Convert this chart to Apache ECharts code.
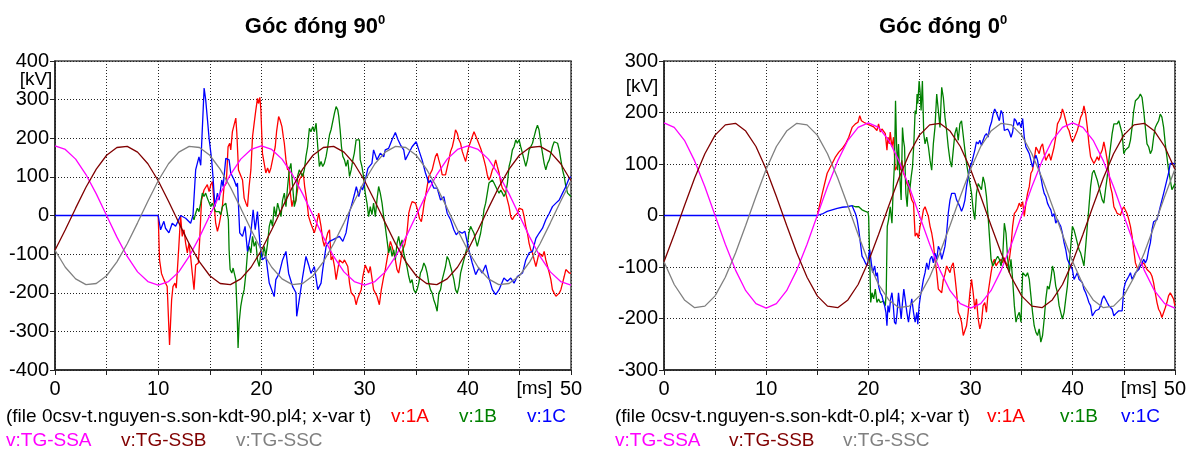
<!DOCTYPE html>
<html>
<head>
<meta charset="utf-8">
<script src="https://cdn.jsdelivr.net/npm/echarts@6/dist/echarts.min.js"></script>
<style>
  html, body { margin: 0; padding: 0; background: #fff; }
  #chart { width: 1189px; height: 452px; }
</style>
</head>
<body>
<div id="chart"></div>
<script>
// reference voltages, one value per ms (0..50 ms), same in both plots
const tgSSA = [180,171,146,106,56,0,-56,-106,-146,-171,-180,-171,-146,-106,-56,0,56,106,146,171,180,171,146,106,56,0,-56,-106,-146,-171,-180,-171,-146,-106,-56,0,56,106,146,171,180,171,146,106,56,0,-56,-106,-146,-171,-180]
const tgSSB = [-90,-37,19,73,120,156,176,179,164,134,90,37,-19,-73,-120,-156,-176,-179,-164,-134,-90,-37,19,73,120,156,176,179,164,134,90,37,-19,-73,-120,-156,-176,-179,-164,-134,-90,-37,19,73,120,156,176,179,164,134,90]
const tgSSC = [-90,-134,-164,-179,-176,-156,-120,-73,-19,37,90,134,164,179,176,156,120,73,19,-37,-90,-134,-164,-179,-176,-156,-120,-73,-19,37,90,134,164,179,176,156,120,73,19,-37,-90,-134,-164,-179,-176,-156,-120,-73,-19,37,90]

// góc đóng 90 : [t ms, kV]  (1A and 1B sit under 1C at 0 before they start)
const v1A_90 = [[10,0],[10.13,-115],[10.32,-150],[10.55,-166],[10.71,-161],[10.87,-184],[11.1,-335],[11.3,-218],[11.43,-184],[11.62,-175],[11.75,-188],[12,-80],[12.17,0],[12.33,-54],[12.5,-37],[12.66,-72],[12.82,-97],[12.98,-72],[13.14,-106],[13.3,-149],[13.47,-192],[13.63,-128],[13.89,-123],[14.02,-63],[14.2,40],[14.44,66],[14.6,71],[14.76,80],[14.93,62],[15.09,79],[15.25,88],[15.41,32],[15.57,-20],[15.74,-41],[15.9,-24],[16.06,-28],[16.22,23],[16.38,75],[16.6,84],[16.77,178],[16.93,187],[17.03,170],[17.19,217],[17.36,217],[17.52,252],[17.62,213],[17.78,118],[17.9,114],[18.17,92],[18.33,45],[18.5,32],[18.65,23],[18.81,75],[18.98,118],[19.14,204],[19.3,239],[19.46,273],[19.62,303],[19.72,290],[19.85,306],[19.95,273],[20.1,161],[20.27,135],[20.43,110],[20.6,123],[20.76,110],[20.92,123],[21.08,144],[21.34,178],[21.47,217],[21.67,256],[21.8,248],[21.99,230],[22.12,204],[22.22,187],[22.38,144],[22.54,118],[22.64,126],[22.77,66],[22.96,23],[23.09,40],[23.29,32],[23.5,66],[23.67,92],[23.84,97],[24.06,110],[24.19,75],[24.39,40],[24.58,-3],[24.78,-20],[24.97,-16],[25.13,-45],[25.3,-28],[25.55,6],[25.78,-28],[25.94,-63],[26.1,-80],[26.27,-76],[26.43,-45],[26.6,-37],[26.75,-115],[26.9,-106],[27.08,-132],[27.24,-166],[27.4,-140],[27.56,-115],[27.73,-113],[27.89,-123],[28.05,-115],[28.2,-123],[28.37,-132],[28.54,-175],[28.7,-200],[28.86,-200],[29,-209],[29.18,-231],[29.34,-214],[29.5,-218],[29.67,-192],[29.83,-158],[30.06,-128],[30.23,-132],[30.39,-149],[30.55,-132],[30.87,-192],[31.2,-209],[31.43,-231],[31.62,-192],[31.85,-158],[32,-141],[32.33,-89],[32.5,-67],[32.66,-80],[32.82,-97],[32.98,-115],[33.14,-140],[33.3,-149],[33.47,-123],[33.63,-93],[33.89,-76],[34.1,-46],[34.28,6],[34.44,23],[34.6,36],[34.76,39],[34.93,32],[35.18,10],[35.31,-7],[35.5,-16],[35.64,6],[35.77,32],[35.9,49],[36.06,75],[36.22,101],[36.38,105],[36.55,118],[36.7,135],[36.87,153],[37.03,161],[37.19,144],[37.36,127],[37.52,105],[37.68,101],[37.84,105],[38,101],[38.17,144],[38.33,166],[38.5,178],[38.65,196],[38.81,222],[38.98,213],[39.14,196],[39.3,187],[39.46,166],[39.62,153],[39.79,140],[39.95,161],[40.1,178],[40.27,191],[40.43,204],[40.6,217],[40.76,213],[40.92,196],[41.08,191],[41.24,174],[41.4,161],[41.57,144],[41.73,127],[41.89,105],[42.05,92],[42.2,101],[42.38,118],[42.54,127],[42.7,144],[42.86,127],[43.03,110],[43.2,84],[43.35,71],[43.67,58],[44,23],[44.16,-3],[44.32,-11],[44.48,-3],[44.65,-7],[44.8,6],[44.97,19],[45.13,23],[45.3,15],[45.46,-3],[45.62,-28],[45.78,-46],[45.94,-72],[46.1,-89],[46.27,-97],[46.43,-115],[46.6,-132],[46.75,-115],[46.9,-97],[47.08,-93],[47.24,-106],[47.4,-93],[47.56,-115],[47.73,-132],[47.9,-149],[48.05,-166],[48.2,-192],[48.37,-201],[48.54,-209],[48.7,-214],[48.86,-201],[49.02,-192],[49.18,-175],[49.34,-158],[49.5,-140],[49.67,-140],[49.83,-149],[50,-149]]
const v1B_90 = [[13.3,0],[13.47,-11],[13.63,6],[13.79,19],[13.95,10],[14.12,32],[14.28,58],[14.44,49],[14.6,58],[14.76,45],[14.93,40],[15.09,23],[15.25,32],[15.41,19],[15.57,10],[15.74,6],[15.9,10],[16.06,2],[16.22,23],[16.38,19],[16.55,32],[16.7,32],[16.8,-11],[16.87,-89],[16.97,-140],[17.13,-149],[17.26,-136],[17.39,-132],[17.52,-166],[17.65,-253],[17.74,-343],[17.84,-278],[18,-235],[18.17,-209],[18.33,-192],[18.5,-149],[18.65,-97],[18.81,-80],[18.98,-97],[19.14,-54],[19.3,-80],[19.46,-67],[19.62,-115],[19.79,-132],[19.95,-97],[20.1,-106],[20.27,-80],[20.43,-106],[20.6,-72],[20.76,-28],[20.92,-11],[21.08,-28],[21.24,23],[21.4,-3],[21.57,32],[21.73,15],[21.9,-3],[22.05,40],[22.22,58],[22.38,23],[22.54,75],[22.7,118],[22.86,135],[23.03,75],[23.19,23],[23.35,40],[23.5,101],[23.67,118],[23.84,118],[24,101],[24.16,118],[24.32,153],[24.48,178],[24.65,226],[24.8,217],[24.97,230],[25.13,217],[25.3,239],[25.46,178],[25.62,127],[25.78,140],[25.94,127],[26.1,135],[26.27,153],[26.43,178],[26.6,209],[26.75,222],[26.9,226],[27.08,265],[27.24,282],[27.4,273],[27.5,256],[27.63,222],[27.76,178],[27.89,153],[28.05,144],[28.2,127],[28.37,144],[28.54,101],[28.7,118],[28.86,144],[29,161],[29.18,196],[29.34,200],[29.5,196],[29.58,144],[29.74,127],[29.9,101],[30.06,58],[30.23,32],[30.39,-3],[30.55,23],[30.71,2],[30.87,32],[31.04,-3],[31.2,41],[31.36,75],[31.52,58],[31.69,32],[31.85,-3],[32,-28],[32.17,-63],[32.33,-97],[32.5,-80],[32.66,-106],[32.82,-89],[32.98,-115],[33.14,-72],[33.3,-54],[33.47,-80],[33.63,-63],[33.79,-97],[33.95,-115],[34.1,-132],[34.28,-158],[34.44,-175],[34.6,-166],[34.76,-192],[34.93,-200],[35.09,-192],[35.25,-175],[35.41,-149],[35.57,-140],[35.74,-123],[35.9,-132],[36.06,-149],[36.22,-175],[36.38,-192],[36.55,-201],[36.7,-218],[36.87,-231],[37.03,-248],[37.19,-201],[37.36,-192],[37.52,-166],[37.68,-149],[37.84,-132],[38,-106],[38.17,-115],[38.33,-132],[38.5,-149],[38.65,-166],[38.81,-192],[38.98,-201],[39.14,-184],[39.3,-149],[39.46,-132],[39.62,-115],[39.79,-97],[39.95,-80],[40.1,-46],[40.27,-28],[40.43,-37],[40.6,-46],[40.76,-63],[40.92,-80],[41.08,-63],[41.24,-46],[41.4,-20],[41.57,15],[41.73,32],[41.89,58],[42.05,84],[42.2,84],[42.38,92],[42.54,84],[42.7,75],[42.86,66],[43.03,58],[43.2,66],[43.35,58],[43.5,49],[43.67,58],[43.84,84],[44,127],[44.16,144],[44.32,170],[44.48,178],[44.65,196],[44.8,187],[44.97,196],[45.13,178],[45.3,161],[45.46,144],[45.62,127],[45.78,144],[45.94,170],[46.1,178],[46.27,187],[46.43,204],[46.6,222],[46.75,234],[46.9,222],[47.08,187],[47.24,161],[47.4,135],[47.56,118],[47.73,135],[47.9,144],[48.05,161],[48.2,178],[48.37,191],[48.54,196],[48.7,187],[48.86,170],[49.02,144],[49.18,118],[49.34,101],[49.5,75],[49.67,58],[49.83,58],[50,49]]
const v1C_90 = [[0,0],[10,0],[10.23,-37],[10.55,-15],[10.71,-33],[11.04,-45],[11.36,-20],[11.69,-28],[12.17,0],[12.66,-7],[13.14,-20],[13.37,0],[13.63,118],[13.95,152],[14.12,130],[14.45,330],[14.6,300],[14.8,240],[14.93,200],[15.18,144],[15.31,100],[15.5,23],[15.74,58],[15.9,40],[16.16,92],[16.29,75],[16.55,148],[16.87,144],[17.03,110],[17.36,92],[17.58,75],[17.68,84],[17.9,-45],[18.17,-54],[18.42,-28],[18.65,-93],[18.98,-45],[19.2,15],[19.4,-37],[19.62,10],[19.88,-80],[20.1,-115],[20.43,-106],[20.76,-175],[21.24,-210],[21.4,-166],[21.73,-150],[22.05,-115],[22.38,-93],[22.64,-150],[23.03,-184],[23.35,-200],[23.42,-261],[23.67,-218],[24,-158],[24.32,-106],[24.58,-128],[24.8,-150],[25.13,-132],[25.46,-192],[25.78,-175],[25.94,-140],[26.27,-80],[26.6,-67],[26.9,-63],[27.56,-54],[27.89,-67],[28.2,-45],[28.54,10],[28.7,23],[29,53],[29.2,75],[29.44,49],[29.67,75],[29.8,66],[30,84],[30.32,122],[30.71,135],[30.87,170],[31.2,144],[31.52,161],[31.85,152],[32,170],[32.33,174],[32.66,196],[32.98,215],[33.24,196],[33.47,183],[33.79,170],[33.95,144],[34.28,161],[34.6,178],[35,191],[35.25,170],[35.57,144],[35.9,110],[36.22,84],[36.38,92],[36.7,71],[37.03,71],[37.36,40],[37.68,49],[38,6],[38.33,-11],[38.65,-37],[38.88,-50],[39.14,-41],[39.46,-46],[39.72,-41],[40.1,-89],[40.43,-123],[40.76,-153],[41.08,-136],[41.4,-149],[41.73,-128],[42.05,-162],[42.38,-192],[42.7,-205],[43.03,-192],[43.5,-162],[43.84,-170],[44.16,-162],[44.48,-175],[44.8,-158],[45.3,-149],[45.62,-115],[45.94,-97],[46.27,-93],[46.6,-59],[46.9,-46],[47.24,-33],[47.56,-11],[47.9,6],[48.2,23],[48.54,32],[48.86,40],[49.18,58],[49.5,75],[49.83,97],[50,100]]

// góc đóng 0 : [t ms, kV]
const v1A_0 = [[15,0],[15.49,43],[15.97,82],[16.46,101],[16.79,114],[17.11,123],[17.44,130],[17.76,139],[18.08,152],[18.41,171],[18.73,178],[18.99,181],[19.16,194],[19.32,184],[19.55,181],[19.71,184],[19.87,178],[20.03,179],[20.19,175],[20.36,178],[20.52,172],[20.68,175],[20.84,165],[21,178],[21.17,162],[21.33,168],[21.49,165],[21.66,159],[21.82,127],[21.92,152],[22.05,139],[22.14,162],[22.31,133],[22.47,152],[22.63,88],[22.79,94],[22.95,107],[23.12,88],[23.28,107],[23.44,82],[23.6,75],[23.77,62],[23.93,56],[24.09,43],[24.25,30],[24.42,24],[24.58,-40],[24.74,-34],[24.9,-44],[25.06,-21],[25.23,-8],[25.39,11],[25.55,17],[25.71,14],[25.88,-2],[26.04,-21],[26.2,-34],[26.36,-53],[26.52,-85],[26.69,-111],[26.85,-143],[27.01,-140],[27.18,-150],[27.34,-124],[27.5,-114],[27.66,-98],[27.82,-95],[27.99,-111],[28.15,-98],[28.31,-92],[28.47,-118],[28.64,-150],[28.8,-188],[28.96,-195],[29.12,-207],[29.29,-233],[29.45,-236],[29.61,-214],[29.77,-188],[29.94,-150],[30.1,-124],[30.26,-150],[30.42,-182],[30.58,-162],[30.75,-201],[30.91,-220],[31.07,-207],[31.23,-175],[31.4,-169],[31.56,-188],[31.72,-150],[31.85,-150],[32.01,-111],[32.18,-92],[32.34,-85],[32.5,-98],[32.66,-92],[32.82,-95],[32.99,-85],[33.15,-92],[33.31,-82],[33.47,-92],[33.64,-98],[33.8,-85],[33.96,-60],[34.12,-21],[34.29,4],[34.45,8],[34.61,14],[34.77,24],[34.94,17],[35.1,27],[35.26,-2],[35.42,24],[35.58,43],[35.75,56],[35.91,82],[36.07,88],[36.23,107],[36.4,133],[36.56,127],[36.72,120],[36.88,133],[37.05,139],[37.21,120],[37.37,107],[37.53,114],[37.69,120],[37.86,107],[38.02,120],[38.18,133],[38.34,152],[38.51,178],[38.67,184],[38.83,191],[38.99,207],[39.16,197],[39.32,184],[39.48,171],[39.64,165],[39.81,152],[39.97,143],[40.13,149],[40.29,152],[40.45,165],[40.62,178],[40.78,191],[40.94,197],[41.1,213],[41.27,197],[41.43,171],[41.59,139],[41.75,114],[41.92,107],[42.08,101],[42.24,107],[42.4,114],[42.56,107],[42.73,120],[42.89,127],[43.05,143],[43.21,127],[43.38,107],[43.54,82],[43.7,56],[43.86,43],[44.03,17],[44.19,11],[44.35,4],[44.51,4],[44.68,1],[44.84,11],[45,17],[45.16,17],[45.32,4],[45.49,-8],[45.65,-21],[45.81,-40],[45.97,-66],[46.14,-92],[46.3,-101],[46.46,-105],[46.62,-98],[46.79,-98],[46.95,-92],[47.11,-95],[47.27,-105],[47.44,-105],[47.6,-111],[47.76,-118],[47.92,-131],[48.08,-150],[48.25,-169],[48.41,-182],[48.57,-188],[48.73,-198],[48.9,-195],[49.06,-179],[49.22,-169],[49.38,-156],[49.55,-150],[49.71,-156],[49.87,-162],[50,-175]]
const v1B_0 = [[18.41,19],[18.57,21],[18.73,17],[19.06,17],[19.22,14],[19.38,11],[19.55,11],[19.71,8],[19.87,8],[19.97,6],[20.03,-2],[20.13,-85],[20.23,-169],[20.36,-150],[20.52,-162],[20.68,-143],[20.84,-169],[21,-162],[21.17,-169],[21.33,-172],[21.49,-166],[21.66,-175],[21.75,-150],[21.85,-21],[21.98,-8],[22.14,17],[22.31,-15],[22.44,56],[22.56,101],[22.66,223],[22.76,139],[22.86,88],[22.95,139],[23.08,75],[23.21,30],[23.34,171],[23.44,146],[23.54,133],[23.67,43],[23.8,17],[23.93,69],[24.06,50],[24.19,75],[24.32,94],[24.45,139],[24.58,204],[24.68,197],[24.77,236],[24.84,217],[24.97,261],[25.06,242],[25.16,204],[25.29,261],[25.42,159],[25.55,139],[25.71,152],[25.88,133],[26.04,107],[26.2,88],[26.36,139],[26.52,171],[26.69,236],[26.85,204],[27.01,171],[27.18,249],[27.34,229],[27.5,191],[27.66,165],[27.82,133],[27.99,107],[28.15,94],[28.31,127],[28.47,159],[28.64,171],[28.8,146],[28.96,178],[29.12,184],[29.29,184],[29.45,127],[29.61,101],[29.77,82],[29.94,82],[30.1,43],[30.26,11],[30.42,-8],[30.58,43],[30.75,62],[30.91,56],[31.07,50],[31.23,75],[31.4,62],[31.56,37],[31.72,-2],[31.85,-40],[32.01,-85],[32.18,-98],[32.34,-92],[32.5,-85],[32.66,-79],[32.82,-85],[32.99,-98],[33.15,-79],[33.31,-15],[33.47,-34],[33.64,-85],[33.8,-111],[33.96,-85],[34.12,-124],[34.29,-175],[34.45,-207],[34.61,-195],[34.77,-188],[34.94,-207],[35.1,-111],[35.26,-111],[35.42,-118],[35.58,-111],[35.75,-124],[35.91,-156],[36.07,-188],[36.23,-214],[36.4,-227],[36.56,-233],[36.72,-220],[36.88,-246],[37.05,-233],[37.21,-201],[37.37,-162],[37.53,-137],[37.69,-143],[37.86,-124],[38.02,-98],[38.18,-111],[38.34,-137],[38.51,-150],[38.67,-175],[38.83,-188],[38.99,-201],[39.16,-188],[39.32,-162],[39.48,-137],[39.64,-98],[39.81,-60],[39.97,-21],[40.13,-28],[40.29,-40],[40.45,-53],[40.62,-66],[40.78,-73],[40.94,-85],[41.1,-98],[41.27,-60],[41.43,-21],[41.59,17],[41.75,56],[41.92,82],[42.08,88],[42.24,85],[42.4,69],[42.56,56],[42.73,43],[42.89,30],[43.05,24],[43.21,50],[43.38,75],[43.54,107],[43.7,133],[43.86,159],[44.03,178],[44.19,181],[44.35,178],[44.51,184],[44.68,181],[44.84,159],[45,120],[45.16,127],[45.32,130],[45.49,133],[45.65,146],[45.81,171],[45.97,203],[46.14,223],[46.3,220],[46.46,229],[46.62,236],[46.79,229],[46.95,203],[47.11,171],[47.27,139],[47.44,133],[47.6,120],[47.76,127],[47.92,152],[48.08,171],[48.25,178],[48.41,184],[48.57,197],[48.73,191],[48.9,171],[49.06,139],[49.22,114],[49.38,88],[49.55,69],[49.71,50],[49.87,56],[50,62]]
const v1C_0 = [[0,0],[15,0],[15.49,3],[15.97,8],[16.46,11],[16.95,14],[17.44,16],[17.92,17],[18.41,19],[18.57,17],[18.73,4],[18.9,-8],[19.06,-28],[19.22,-53],[19.38,-79],[19.55,-85],[19.71,-92],[19.87,-98],[20.03,-79],[20.13,-66],[20.29,-92],[20.42,-111],[20.62,-98],[20.75,-118],[20.88,-111],[21,-137],[21.17,-150],[21.33,-156],[21.49,-169],[21.59,-175],[21.72,-188],[21.82,-214],[21.92,-175],[22.05,-188],[22.18,-162],[22.31,-150],[22.44,-175],[22.56,-207],[22.69,-211],[22.82,-188],[22.95,-150],[23.08,-175],[23.21,-201],[23.34,-169],[23.47,-143],[23.6,-162],[23.77,-188],[23.93,-207],[24.09,-182],[24.25,-162],[24.42,-188],[24.58,-207],[24.74,-188],[24.84,-211],[24.97,-175],[25.1,-156],[25.23,-143],[25.39,-124],[25.55,-111],[25.71,-92],[25.88,-105],[26.04,-85],[26.2,-79],[26.36,-92],[26.52,-73],[26.69,-85],[26.85,-60],[27.01,-66],[27.18,-85],[27.34,-73],[27.5,-60],[27.66,-34],[27.82,4],[27.99,30],[28.15,43],[28.31,46],[28.47,43],[28.64,30],[28.8,24],[28.96,17],[29.12,8],[29.29,17],[29.45,30],[29.61,56],[29.77,75],[29.94,94],[30.1,101],[30.26,114],[30.42,127],[30.58,143],[30.75,139],[30.91,146],[31.07,136],[31.23,146],[31.4,155],[31.56,159],[31.72,152],[31.88,171],[32.05,181],[32.21,197],[32.37,207],[32.53,200],[32.66,200],[32.82,184],[32.99,204],[33.15,197],[33.31,165],[33.47,165],[33.64,168],[33.8,162],[33.96,152],[34.12,162],[34.29,188],[34.45,184],[34.61,175],[34.77,181],[34.94,171],[35.1,188],[35.26,152],[35.42,133],[35.58,127],[35.75,120],[35.91,107],[36.07,94],[36.23,107],[36.4,117],[36.56,107],[36.72,88],[36.88,75],[37.05,56],[37.21,43],[37.37,37],[37.53,24],[37.69,17],[37.86,11],[38.02,-2],[38.18,4],[38.34,-15],[38.51,-8],[38.67,-15],[38.83,-21],[38.99,-34],[39.16,-53],[39.32,-66],[39.48,-85],[39.64,-92],[39.81,-98],[39.97,-105],[40.13,-124],[40.29,-118],[40.45,-111],[40.62,-124],[40.78,-121],[40.94,-130],[41.1,-143],[41.27,-150],[41.43,-159],[41.59,-169],[41.75,-175],[41.92,-195],[42.08,-198],[42.24,-185],[42.4,-188],[42.56,-182],[42.73,-175],[42.89,-162],[43.05,-156],[43.21,-162],[43.38,-169],[43.54,-175],[43.7,-175],[43.86,-182],[44.03,-195],[44.19,-191],[44.35,-188],[44.51,-185],[44.68,-182],[44.84,-185],[45,-143],[45.16,-130],[45.32,-124],[45.49,-118],[45.65,-111],[45.81,-124],[45.97,-118],[46.14,-111],[46.3,-108],[46.46,-105],[46.62,-98],[46.79,-92],[46.95,-85],[47.11,-92],[47.27,-85],[47.44,-66],[47.6,-53],[47.76,-28],[47.92,-12],[48.08,-12],[48.25,-8],[48.41,4],[48.57,17],[48.73,30],[48.9,43],[49.06,56],[49.22,69],[49.38,82],[49.55,101],[49.71,104],[49.87,101],[50,100]]

const chart = echarts.init(document.getElementById('chart'))
const font = '"Liberation Sans", Arial, sans-serif'
const red = '#ff0000', green = '#008000', blue = '#0000ff'
const magenta = '#ff00ff', maroon = '#800000', grey = '#808080'

function perMs(arr) { return arr.map((v, i) => [i, v]) }

function xAxisFor(i) {
  return {
    gridIndex: i, type: 'value', min: 0, max: 50, interval: 5,
    axisLine: { show: true, onZero: false, lineStyle: { color: '#222', width: 1.5 } },
    axisTick: { show: true, inside: false, length: 5, lineStyle: { color: '#222' } },
    axisLabel: {
      margin: 9, color: '#000', fontSize: 20, fontFamily: font,
      showMinLabel: true, showMaxLabel: true, hideOverlap: false,
      formatter: v => v === 45 ? '{ms|[ms]}' : (v % 10 === 0 ? String(v) : ''),
      rich: { ms: { fontSize: 19, fontFamily: font, color: '#000', padding: [0, 0, 0, 30] } }
    },
    splitLine: { show: true, lineStyle: { color: '#222', type: [1, 2], width: 1 } }
  }
}

function yAxisFor(i, lim) {
  return {
    gridIndex: i, type: 'value', min: -lim, max: lim, interval: 100,
    axisLine: { show: true, lineStyle: { color: '#222', width: 1.5 } },
    axisTick: { show: true, inside: false, length: 5, lineStyle: { color: '#222' } },
    axisLabel: { margin: 6, color: '#000', fontSize: 20, fontFamily: font, showMinLabel: true, showMaxLabel: true },
    splitLine: { show: true, lineStyle: { color: '#222', type: [1, 2], width: 1 } }
  }
}

function line(name, data, color, i) {
  return {
    name: name, type: 'line', xAxisIndex: i, yAxisIndex: i, data: data,
    showSymbol: false, symbol: 'none', animation: false,
    lineStyle: { color: color, width: 1.3 }, itemStyle: { color: color }
  }
}

function txt(x, y, text, color, align) {
  return {
    type: 'text', x: x, y: y, silent: true,
    style: { text: text, fill: color, font: '19px ' + font, align: align || 'left', verticalAlign: 'middle' }
  }
}

function title(x, text) {
  return {
    type: 'text', x: x, y: 27, silent: true,
    style: {
      text: text, fill: '#000', align: 'center', verticalAlign: 'middle',
      font: 'bold 22px ' + font,
      rich: {
        b: { font: 'bold 22px ' + font, fill: '#000', lineHeight: 26 },
        s: { font: 'bold 13px ' + font, fill: '#000', verticalAlign: 'top', lineHeight: 26 }
      }
    }
  }
}

const option = {
  backgroundColor: '#fff',
  animation: false,
  grid: [
    { left: 55, top: 61, width: 516, height: 309, show: true, borderColor: '#444', borderWidth: 1.5, backgroundColor: 'transparent' },
    { left: 664, top: 61, width: 513, height: 309, show: true, borderColor: '#444', borderWidth: 1.5, backgroundColor: 'transparent' }
  ],
  xAxis: [xAxisFor(0), xAxisFor(1)],
  yAxis: [yAxisFor(0, 400), yAxisFor(1, 300)],
  series: [
    line('v:1A', v1A_90, red, 0),
    line('v:1B', v1B_90, green, 0),
    line('v:1C', v1C_90, blue, 0),
    line('v:TG-SSA', perMs(tgSSA), magenta, 0),
    line('v:TG-SSB', perMs(tgSSB), maroon, 0),
    line('v:TG-SSC', perMs(tgSSC), grey, 0),
    line('v:1A', v1A_0, red, 1),
    line('v:1B', v1B_0, green, 1),
    line('v:1C', v1C_0, blue, 1),
    line('v:TG-SSA', perMs(tgSSA), magenta, 1),
    line('v:TG-SSB', perMs(tgSSB), maroon, 1),
    line('v:TG-SSC', perMs(tgSSC), grey, 1)
  ],
  graphic: [
    title(315, '{b|Góc đóng 90}{s|0}'),
    title(943, '{b|Góc đóng 0}{s|0}'),
    txt(36, 80, '[kV]', '#000', 'center'),
    txt(642, 87, '[kV]', '#000', 'center'),
    txt(6, 417, '(file 0csv-t.nguyen-s.son-kdt-90.pl4; x-var t)', '#000'),
    txt(391, 417, 'v:1A', red),
    txt(459, 417, 'v:1B', green),
    txt(527, 417, 'v:1C', blue),
    txt(6, 441, 'v:TG-SSA', magenta),
    txt(121, 441, 'v:TG-SSB', maroon),
    txt(236, 441, 'v:TG-SSC', grey),
    txt(615, 417, '(file 0csv-t.nguyen-s.son-kdt-0.pl4; x-var t)', '#000'),
    txt(987, 417, 'v:1A', red),
    txt(1060, 417, 'v:1B', green),
    txt(1121, 417, 'v:1C', blue),
    txt(615, 441, 'v:TG-SSA', magenta),
    txt(729, 441, 'v:TG-SSB', maroon),
    txt(843, 441, 'v:TG-SSC', grey)
  ]
}

chart.setOption(option)
</script>
</body>
</html>
